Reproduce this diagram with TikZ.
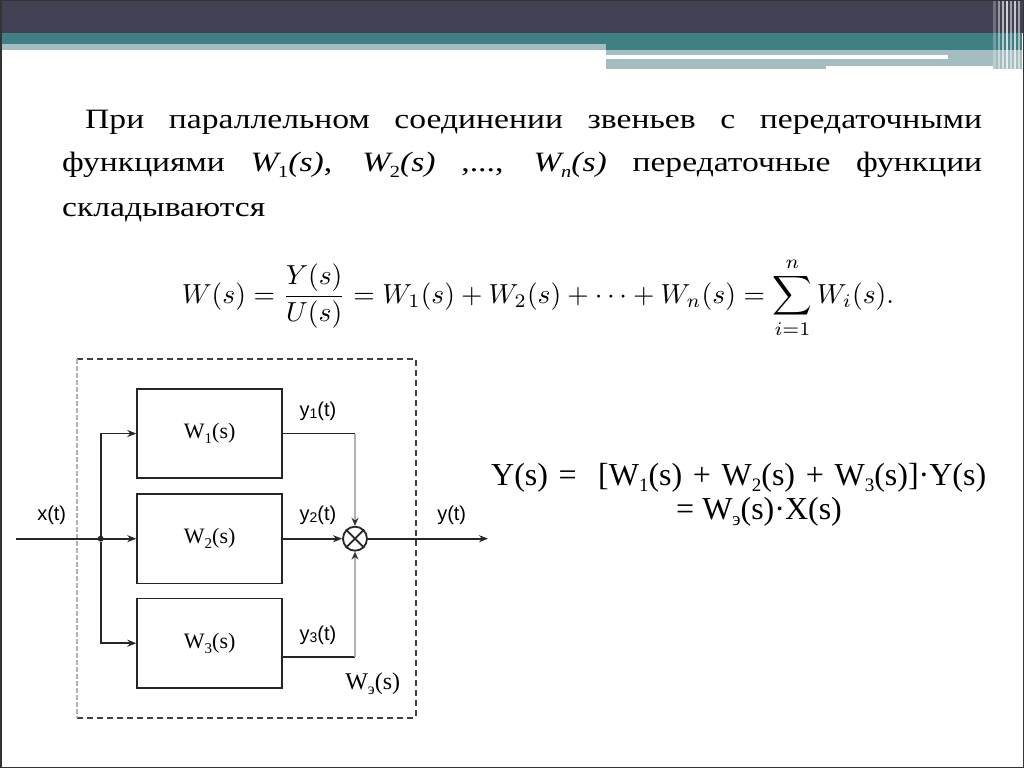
\documentclass[tikz,border=0pt]{standalone}
\usepackage{fontspec}
\usepackage{graphicx}
\usepackage{amsmath}
\setmainfont{Liberation Serif}
\newfontfamily\parafont[FakeStretch=1.2]{Liberation Serif}
\newfontfamily\arialf{Liberation Sans}
\usetikzlibrary{arrows.meta}
\newcommand\subl[3]{\raisebox{-#1pt}{\fontsize{#2}{#2}\selectfont #3}}
\newcommand\blkfont{\fontsize{22}{26}\selectfont}
\newcommand\labfont{\arialf\fontsize{20}{22}\selectfont}
\newcommand\pfont{\parafont\fontsize{28}{34}\selectfont}
\newcommand\rfont{\fontsize{32}{36}\selectfont}
\definecolor{bandDark}{HTML}{424154}
\definecolor{bandTeal}{HTML}{407F83}
\definecolor{bandLight}{HTML}{A3BDC0}
\begin{document}
\begin{tikzpicture}[x=1pt,y=-1pt,
  ln/.style={line width=1.8pt, draw=black!85},
  arr/.style={ln, -{Stealth[length=9pt,width=7pt]}},
  garr/.style={line width=1.8pt, draw=black!30, -{Stealth[length=8pt,width=7pt,color=black!80]}},
  blk/.style={draw=black!85, line width=1.8pt, minimum width=145pt, minimum height=89.5pt, inner sep=0pt, font=\blkfont},
  lab/.style={font=\labfont, inner sep=0pt},
  para/.style={font=\pfont, inner sep=0pt, anchor=base west},
  rform/.style={font=\rfont, inner sep=0pt, anchor=base west},
  frame/.style={line width=1.6pt, draw=black!75, dash pattern=on 6pt off 4pt},
  lframe/.style={line width=1.8pt, draw=black!30, dash pattern=on 5pt off 2pt}]
\useasboundingbox (0,0) rectangle (1024,768);
\fill[white] (0,0) rectangle (1024,768);
% banner
\fill[bandDark] (0,0) rectangle (1024,33);
\fill[bandTeal] (0,33) rectangle (606,44);
\fill[bandTeal] (606,33) rectangle (1022,50);
\fill[bandLight] (0,44) rectangle (606,50);
\fill[bandLight] (606,50) rectangle (1022,55);
\fill[white] (606,55) rectangle (948,59);
\fill[bandLight] (948,55) rectangle (1022,59);
\fill[bandLight] (606,59) rectangle (826,69);
\fill[bandLight] (826,59) rectangle (1005,66);
\fill[bandLight] (993,59) rectangle (1022,69);
\foreach \xa/\xb/\op in {993/996/0.25,998/1000/0.45,1002/1004/0.6,1006/1008/0.75,1010/1012/0.5,1014/1016/0.7,1018/1020/0.5}
  \fill[white,opacity=\op] (\xa,0) rectangle (\xb,69);
% slide border
\draw[black!80, line width=1.5pt] (0.75,0.75) rectangle (1023.25,767.25);
% paragraph
\node[para] (l1) at (85,128) {\makebox[897pt][s]{При параллельном соединении звеньев с передаточными}};
\node[para] (l2) at (62,171) {\makebox[920pt][s]{функциями \textit{W}\kern-3pt\subl{6}{17}{1}\textit{(s)}, \textit{W}\kern-3pt\subl{6}{17}{2}\textit{(s)} ,..., \textit{W}\kern-3pt\subl{6}{17}{\textit{n}}\textit{(s)} передаточные функции}};
\node[para] (l3) at (62,216) {складываются};
% main formula
\node[inner sep=0pt] (f) at (538,298) {\resizebox{712pt}{!}{$\displaystyle W(s)=\frac{Y(s)}{U(s)}=W_1(s)+W_2(s)+\cdots+W_n(s)=\sum_{i=1}^{n}W_i(s).$}};
% dashed frame
\draw[frame] (76.7,359) -- (415.7,359) -- (415.7,717.7) -- (76.7,717.7);
\draw[lframe] (76.7,359) -- (76.7,717.7);
% blocks
\node[blk] (b1) at (209.7,433.5) {W\subl{5}{15}{1}(s)};
\node[blk] (b2) at (209.7,538.7) {W\subl{5}{15}{2}(s)};
\node[blk] (b3) at (209.7,643.2) {W\subl{5}{15}{3}(s)};
\node[draw=black!85, circle, minimum size=24pt, inner sep=0pt, line width=1.8pt] (sum) at (355,538.7) {};
\draw[ln] (sum.north west) -- (sum.south east) (sum.north east) -- (sum.south west);
\coordinate (in) at (16,538.7);
\coordinate (out) at (488,538.7);
\node[circle, fill=black!85, inner sep=0pt, minimum size=6pt] (j) at (100.7,538.7) {};
\draw[arr] (in) -- (b2.west);
\draw[arr] (j) |- (b1.west);
\draw[arr] (j) |- (b3.west);
\draw[arr] (b2.east) -- (sum.west);
\draw[ln] (b1.east) -- (sum.north |- b1.east);
\draw[garr] (sum.north |- b1.east) -- (sum.north);
\coordinate (c3) at ([yshift=-14pt]b3.east);
\draw[ln] (c3) -- (sum.south |- c3);
\draw[garr] (sum.south |- c3) -- (sum.south);
\draw[arr] (sum.east) -- (out);
% labels
\node[lab] (xl) at (51.7,515) {x(t)};
\node[lab] (y1l) at (318,411) {y\subl{2}{14}{1}(t)};
\node[lab] (y2l) at (318,515) {y\subl{2}{14}{2}(t)};
\node[lab] (y3l) at (318,635) {y\subl{2}{14}{3}(t)};
\node[lab] (yl) at (451.7,515) {y(t)};
\node[font=\fontsize{24}{28}\selectfont, inner sep=0pt] (we) at (372.7,683.3) {W\subl{5}{16}{э}(s)};
% right formula
\node[rform] (r1) at (491,485) {\makebox[495pt][s]{Y(s) =\ \ [W\subl{6}{19}{1}(s) + W\subl{6}{19}{2}(s) + W\subl{6}{19}{3}(s)]·Y(s)}};
\node[rform] (r2) at (676,519) {= W\subl{6}{19}{э}(s)·X(s)};
\end{tikzpicture}
\end{document}
